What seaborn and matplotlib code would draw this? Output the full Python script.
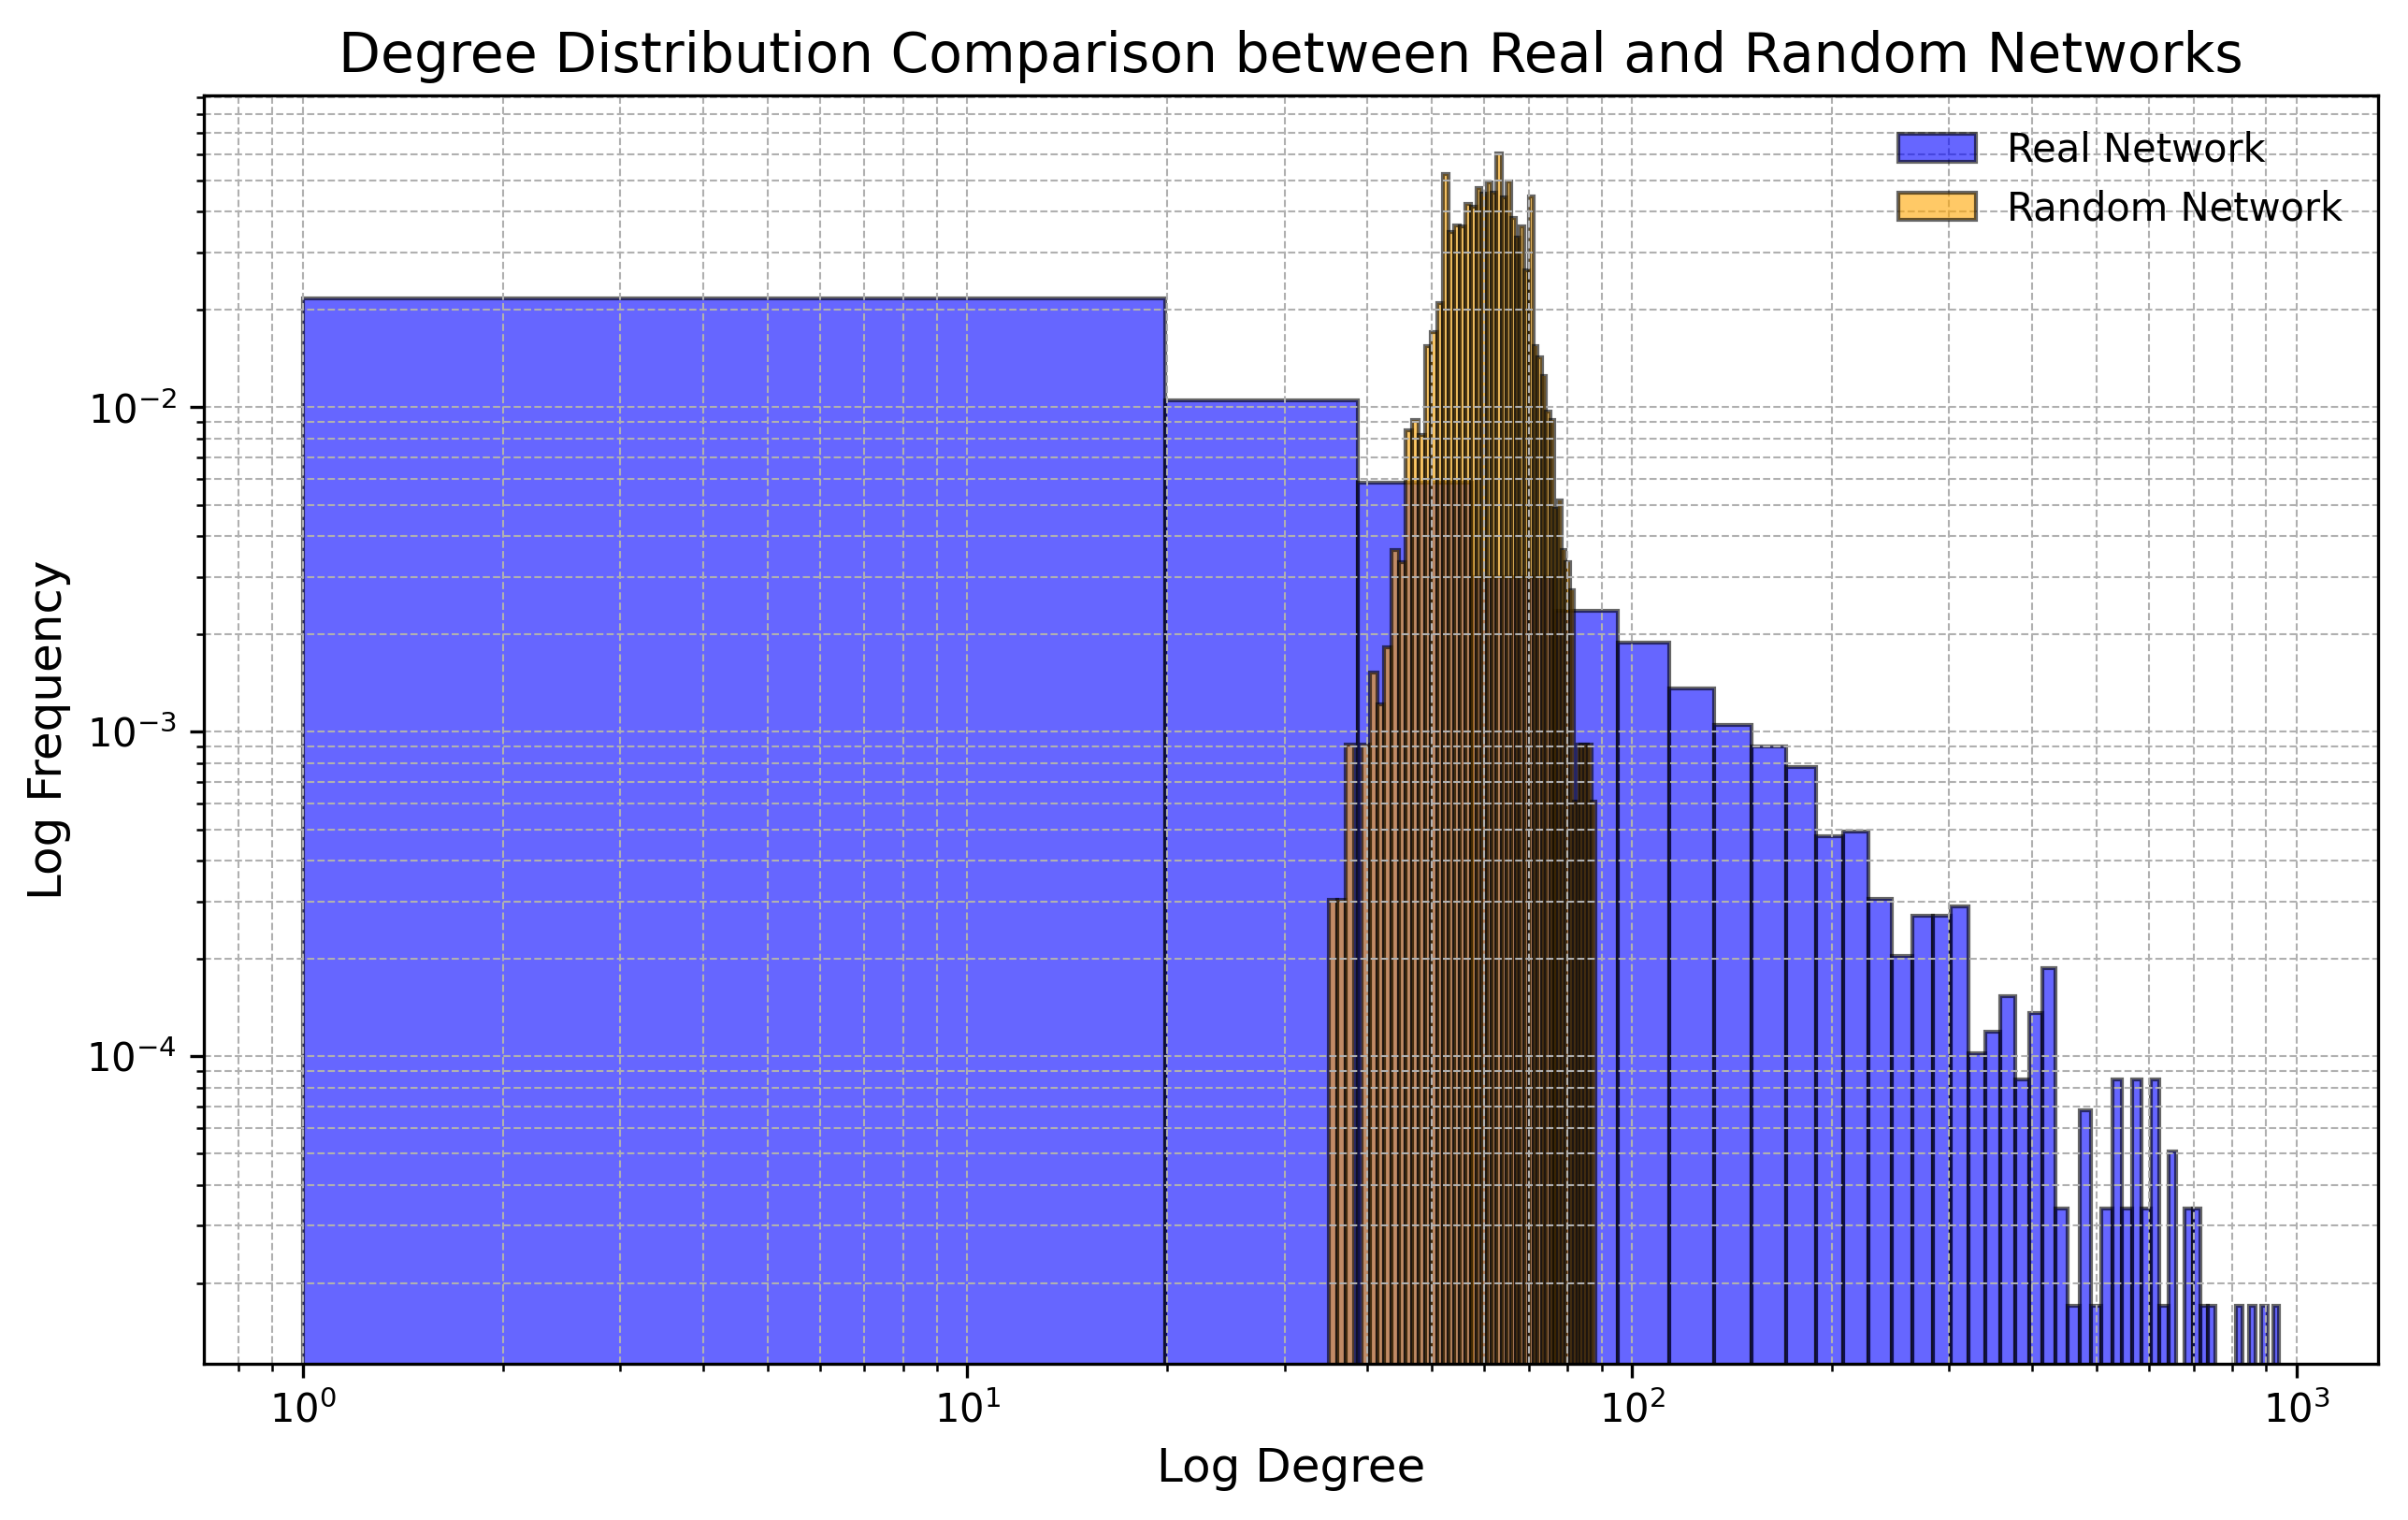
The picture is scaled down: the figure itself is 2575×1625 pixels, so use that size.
import numpy as np
import pandas as pd
import seaborn as sns
import matplotlib.pyplot as plt

# Degree histograms:
# node counts per bin, 50 equal-width bins between min and max degree
n_bins = 50
real_min, real_max = 1, 942
random_min, random_max = 35, 88

real_counts = [1275, 620, 345, 176, 139, 111, 80, 62, 53, 46,
               28, 29, 18, 12, 16, 16, 17, 6, 7, 9,
               5, 8, 11, 2, 1, 4, 1, 2, 5, 2,
               5, 2, 5, 1, 3, 0, 2, 2, 1, 1,
               0, 0, 0, 1, 0, 1, 0, 1, 0, 1]
random_counts = [1, 1, 3, 0, 3, 5, 4, 6, 12, 11,
                 28, 30, 27, 51, 56, 69, 173, 114, 120, 119,
                 139, 137, 156, 150, 163, 151, 200, 146, 164, 126,
                 110, 119, 87, 147, 51, 47, 41, 32, 30, 16,
                 17, 12, 11, 9, 2, 3, 3, 3, 3, 2]


def hist_frame(lo, hi, counts):
    """
    Build bin edges and a weighted frame (one row per bin) for histplot
    """
    edges = np.linspace(lo, hi, n_bins + 1)
    centers = (edges[:-1] + edges[1:]) / 2
    # seaborn compares bins to "auto", so hand it a plain list
    return edges.tolist(), pd.DataFrame({'degree': centers, 'count': counts})


real_edges, real_df = hist_frame(real_min, real_max, real_counts)
rand_edges, rand_df = hist_frame(random_min, random_max, random_counts)

fig, ax = plt.subplots(figsize=(2575 / 300, 1625 / 300), dpi=300)
fig.subplots_adjust(left=0.0847, right=0.9876, bottom=0.1028, top=0.9372)

# seaborn only puts alpha on the fill, so give the outline its own alpha
edge = (0, 0, 0, 0.6)
sns.histplot(data=real_df, x='degree', weights='count', bins=real_edges,
             stat='density', color='blue', alpha=0.6, edgecolor=edge,
             linewidth=1.0, label='Real Network', ax=ax)
sns.histplot(data=rand_df, x='degree', weights='count', bins=rand_edges,
             stat='density', color='orange', alpha=0.6, edgecolor=edge,
             linewidth=1.0, label='Random Network', ax=ax)

ax.set_xscale('log')
ax.set_yscale('log')
ax.set_title('Degree Distribution Comparison between Real and Random Networks', fontsize=14)
ax.set_xlabel('Log Degree', fontsize=12)
ax.set_ylabel('Log Frequency', fontsize=12)
ax.grid(True, which='both', linestyle='--', linewidth=0.5)
ax.legend(loc='upper right', frameon=False)

fig.savefig('out.png', dpi=300)
